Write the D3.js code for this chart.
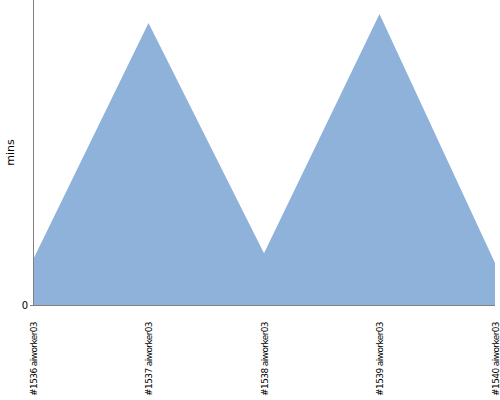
<!DOCTYPE html>
<html>
<head>
<meta charset="UTF-8">
<script src="https://cdnjs.cloudflare.com/ajax/libs/d3/7.8.5/d3.min.js"></script>
<style>
body { margin: 0; background: #fff; }
svg text { font-family: "DejaVu Sans", sans-serif; fill: #000; }
</style>
</head>
<body>
<svg id="chart" width="500" height="400"></svg>
<script>
// builds shown along the bottom
var builds = ["#1536 aiworker03", "#1537 aiworker03", "#1538 aiworker03", "#1539 aiworker03", "#1540 aiworker03"];
// duration per build, in mins
var durations = [14.8, 92.5, 17, 95.4, 13.8];
var yTicks = [0];

var margin = {left: 33, right: 5, top: 0, bottom: 95};
var width = 500, height = 400;
var svg = d3.select("#chart");

var x = d3.scalePoint().domain(builds).range([margin.left, width - margin.right]);
var y = d3.scaleLinear().domain([0, 100]).range([height - margin.bottom, margin.top]);

// the area
var area = d3.area()
    .x(function(d, i) { return x(builds[i]); })
    .y0(y(0))
    .y1(function(d) { return y(d); });

svg.append("path")
    .datum(durations)
    .attr("d", area)
    .attr("fill", "#8fb2db");

// axes
var xAxis = svg.append("g")
    .attr("transform", "translate(0," + y(0) + ")")
    .call(d3.axisBottom(x).tickSize(0).tickPadding(0));
xAxis.select(".domain").attr("stroke", "#808080").attr("d", "M" + margin.left + ",0.5H" + (width - margin.right));
xAxis.selectAll("text")
    .attr("transform", "rotate(-90)")
    .attr("text-anchor", "end")
    .attr("x", -17)
    .attr("y", 0)
    .attr("dy", "0.35em")
    .style("font-size", "9px")
    .style("letter-spacing", "-0.6px");

var yAxis = svg.append("g")
    .attr("transform", "translate(" + margin.left + ",0)")
    .call(d3.axisLeft(y).tickValues(yTicks).tickSize(3).tickPadding(2));
yAxis.select(".domain").attr("stroke", "#808080").attr("d", "M0.5," + y(0) + "V0");
yAxis.selectAll(".tick line").attr("stroke", "#808080");
yAxis.selectAll("text").style("font-size", "10px");

svg.append("text")
    .attr("transform", "translate(14," + (y(0) / 2) + ") rotate(-90)")
    .attr("text-anchor", "middle")
    .style("font-size", "11px")
    .text("mins");
</script>
</body>
</html>
